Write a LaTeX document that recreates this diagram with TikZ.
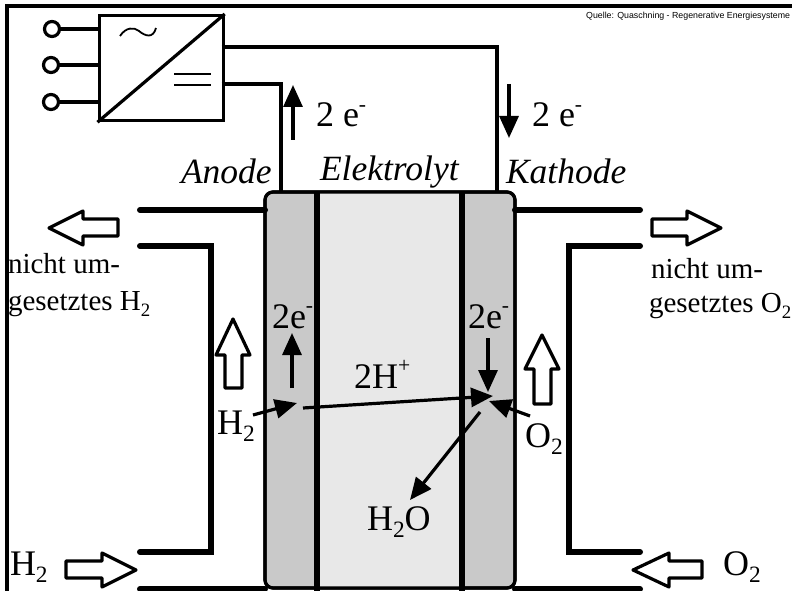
\documentclass[tikz,border=0pt]{standalone}
\usepackage{fontspec}
\setmainfont{Liberation Serif}
\newfontfamily\quellefont{Liberation Sans}
\usetikzlibrary{arrows.meta}
\newcommand{\lo}[1]{\raisebox{-.22em}{\fontsize{.65em}{1em}\selectfont #1}}
\newcommand{\hi}[1]{\raisebox{.42em}{\fontsize{.6em}{1em}\selectfont #1}}
\tikzset{
  wire/.style={line width=3.2bp,line join=miter},
  pipe/.style={line width=6bp,line cap=round,line join=miter},
  hollow/.style={draw=black,fill=white,line width=3.2bp,line join=round},
  flow/.style={line width=3.2bp,-{Triangle[length=22bp,width=19bp]}},
  lab/.style={anchor=base west,inner sep=0pt,outer sep=0pt,font=\fontsize{36bp}{38bp}\selectfont},
  labi/.style={lab,font=\fontsize{35.5bp}{36bp}\selectfont\itshape},
  labs/.style={lab,font=\fontsize{29bp}{30bp}\selectfont},
  term/.style={circle,draw,line width=3.2bp,minimum size=15bp,inner sep=0pt,fill=white},
  cell/.style={rounded corners=8bp,line width=3.2bp,draw=black}
}
\begin{document}
\begin{tikzpicture}[x=1bp,y=-1bp]
\useasboundingbox (0,0) rectangle (792,591);
\begin{scope}
\clip (0,0) rectangle (792,591);
% frame
\coordinate (fb) at (7,591);\coordinate (ftl) at (7,6);\coordinate (ftr) at (792,6);
\draw[line width=4bp] (fb) -- (ftl) -- (ftr);
% cell
\path[cell,fill=black!21] (265,192) rectangle (515,588);
\fill[black!9] (317,192) rectangle (462,588);
\draw[cell] (265,192) rectangle (515,588);
\coordinate (d1t) at (317,192);\coordinate (d1b) at (317,591);
\coordinate (d2t) at (462,192);\coordinate (d2b) at (462,591);
\draw[line width=5.5bp] (d1t) -- (d1b);
\draw[line width=5.5bp] (d2t) -- (d2b);
% pipes
\coordinate (lt1) at (140,210);\coordinate (lt2) at (265,210);
\coordinate (lm1) at (140,246);\coordinate (lm2) at (211,246);\coordinate (lm3) at (211,552);\coordinate (lm4) at (140,552);
\coordinate (lb1) at (140,589);\coordinate (lb2) at (265,589);
\coordinate (rt1) at (515,210);\coordinate (rt2) at (640,210);
\coordinate (rm1) at (640,246);\coordinate (rm2) at (569,246);\coordinate (rm3) at (569,552);\coordinate (rm4) at (640,552);
\coordinate (rb1) at (515,589);\coordinate (rb2) at (640,589);
\draw[pipe] (lt1) -- (lt2);
\draw[pipe] (lm1) -- (lm2) -- (lm3) -- (lm4);
\draw[pipe] (lb1) -- (lb2);
\draw[pipe] (rt1) -- (rt2);
\draw[pipe] (rm1) -- (rm2) -- (rm3) -- (rm4);
\draw[pipe] (rb1) -- (rb2);
% hollow arrows
\draw[hollow] (49,228) -- (83,211) -- (83,219) -- (118,219) -- (118,236) -- (83,236) -- (83,245) -- cycle;
\draw[hollow] (136,570) -- (102,553) -- (102,561) -- (66,561) -- (66,578) -- (102,578) -- (102,587) -- cycle;
\draw[hollow] (721,228) -- (687,211) -- (687,219) -- (652,219) -- (652,236) -- (687,236) -- (687,245) -- cycle;
\draw[hollow] (633,570) -- (669,553) -- (669,561) -- (702,561) -- (702,578) -- (669,578) -- (669,587) -- cycle;
\draw[hollow] (233,319) -- (216,355) -- (225,355) -- (225,388) -- (242,388) -- (242,355) -- (250,355) -- cycle;
\draw[hollow] (542,335) -- (525,369) -- (534,369) -- (534,404) -- (551,404) -- (551,369) -- (559,369) -- cycle;
% inverter
\node[draw,line width=3.2bp,minimum width=124bp,minimum height=105bp,inner sep=0pt,anchor=north west] (inv) at (97.5,14) {};
\draw[line width=3.2bp] (inv.south west) -- (inv.north east);
\draw[line width=1.8bp] (120,36) .. controls (126,27) and (134,27) .. (139,31) .. controls (145,36) and (153,39) .. (156,28);
\coordinate (eqa1) at (174,74);\coordinate (eqa2) at (211,74);
\coordinate (eqb1) at (174,85);\coordinate (eqb2) at (211,85);
\draw[line width=2.2bp] (eqa1) -- (eqa2);
\draw[line width=2.2bp] (eqb1) -- (eqb2);
\node[term] (t1) at (52,29) {};
\node[term] (t2) at (51,65) {};
\node[term] (t3) at (51,102) {};
\coordinate (i1) at (97.5,29);\coordinate (i2) at (97.5,65);\coordinate (i3) at (97.5,102);
\draw[wire] (t1) -- (i1);
\draw[wire] (t2) -- (i2);
\draw[wire] (t3) -- (i3);
\coordinate (o1) at (221.5,47);\coordinate (o1c) at (497,47);\coordinate (o1e) at (497,192);
\coordinate (o2) at (221.5,84);\coordinate (o2c) at (281,84);\coordinate (o2e) at (281,192);
\draw[wire] (o1) -- (o1c) -- (o1e);
\draw[wire] (o2) -- (o2c) -- (o2e);
% thin arrows
\coordinate (a1s) at (293,140);\coordinate (a1e) at (293,85);
\coordinate (a2s) at (509,84);\coordinate (a2e) at (509,138);
\coordinate (a3s) at (292,388);\coordinate (a3e) at (292,333);
\coordinate (a4s) at (488,338);\coordinate (a4e) at (488,392);
\coordinate (a5s) at (253,415);\coordinate (a5e) at (297,403);
\coordinate (a6s) at (303,408);\coordinate (a6e) at (493,396);
\coordinate (a7s) at (530,416);\coordinate (a7e) at (489,401);
\coordinate (a8s) at (480,412);\coordinate (a8e) at (410,500);
\draw[flow] (a1s) -- (a1e);
\draw[flow] (a2s) -- (a2e);
\draw[flow] (a3s) -- (a3e);
\draw[flow] (a4s) -- (a4e);
\draw[flow] (a5s) -- (a5e);
\draw[flow] (a6s) -- (a6e);
\draw[flow] (a7s) -- (a7e);
\draw[flow] (a8s) -- (a8e);
% labels
\node[labi] (anode) at (181,184) {Anode};
\node[labi] (elek) at (320,181) {Elektrolyt};
\node[labi] (kath) at (506,184) {Kathode};
\node[lab] (e1) at (316,127) {2 e\hi{-}};
\node[lab] (e2) at (532,127) {2 e\hi{-}};
\node[labs] (n1) at (8,273) {nicht um-};
\node[labs] (g1) at (8,310) {gesetztes H\lo{2}};
\node[labs] (n2) at (651,278) {nicht um-};
\node[labs] (g2) at (649,312) {gesetztes O\lo{2}};
\node[lab] (e3) at (272,328) {2e\hi{-}};
\node[lab] (e4) at (468,328) {2e\hi{-}};
\node[lab] (hp) at (354,388) {2H\hi{+}};
\node[lab] (h2a) at (217,434) {H\lo{2}};
\node[lab] (o2a) at (525,447) {O\lo{2}};
\node[lab] (h2o) at (367,530) {H\lo{2}O};
\node[lab] (h2b) at (10,575) {H\lo{2}};
\node[lab] (o2b) at (723,575) {O\lo{2}};
\node[anchor=base west,inner sep=0pt,font=\fontsize{8.8bp}{10bp}\selectfont\quellefont] (q) at (586,19) {Quelle: Quaschning - Regenerative Energiesysteme};
\end{scope}
\end{tikzpicture}
\end{document}
